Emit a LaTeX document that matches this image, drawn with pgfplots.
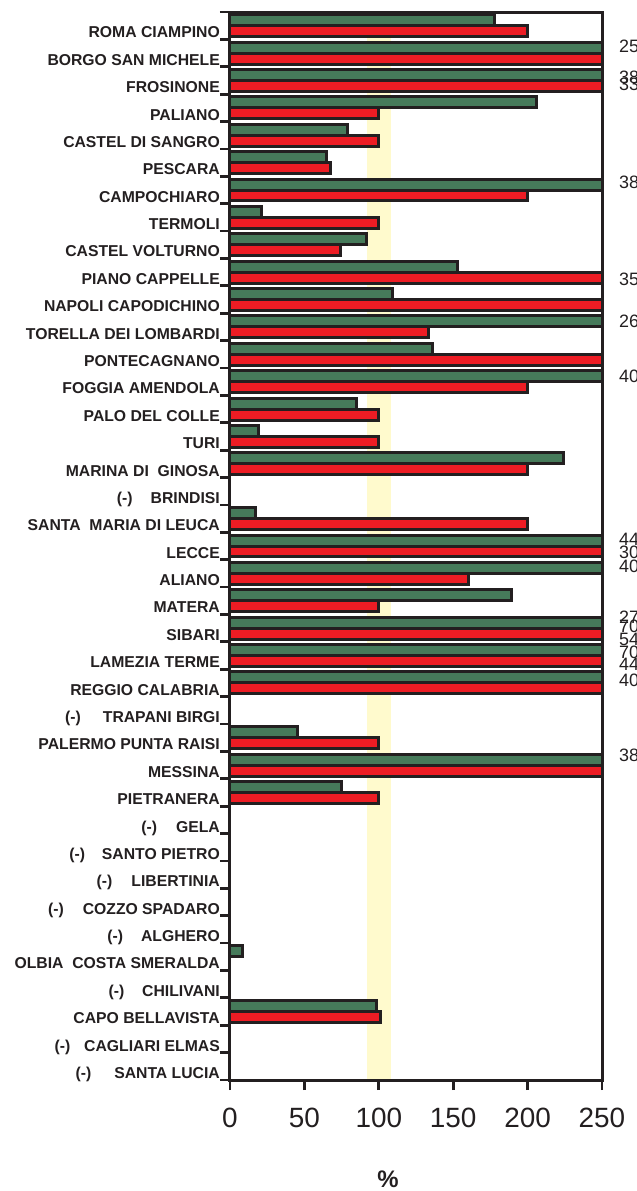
\documentclass[border=0pt]{standalone}
\usepackage{pgfplots}
\pgfplotsset{compat=1.18}
\usepackage{fontspec}
\setmainfont{Liberation Sans}
\usetikzlibrary{calc}
\definecolor{barg}{HTML}{467A5A}
\definecolor{barr}{HTML}{ED1C24}
\definecolor{edge}{HTML}{231F20}
\definecolor{band}{HTML}{FFFACD}
\newcommand{\na}[2][18bp]{(-)\hspace{#1}#2}
\begin{document}
\begin{tikzpicture}
\begin{axis}[name=ax, scale only axis, width=372bp, height=1068bp,
 xmin=0, xmax=250, ymin=0, ymax=39, y dir=reverse,
 axis line style={line width=3bp, draw=edge},
 xtick={0,50,...,250}, xtick pos=bottom, ytick pos=left,
 ytick={0,...,39}, tick align=outside, major tick length=10bp,
 every tick/.style={line width=2.8bp, draw=edge},
 minor tick num=0,
 yticklabels={{},
ROMA CIAMPINO,
BORGO SAN MICHELE,
FROSINONE,
PALIANO,
CASTEL DI SANGRO,
PESCARA,
CAMPOCHIARO,
TERMOLI,
CASTEL VOLTURNO,
PIANO CAPPELLE,
NAPOLI CAPODICHINO,
TORELLA DEI LOMBARDI,
PONTECAGNANO,
FOGGIA AMENDOLA,
PALO DEL COLLE,
TURI,
MARINA DI\ \ GINOSA,
\na{BRINDISI},
SANTA\ \ MARIA DI LEUCA,
LECCE,
ALIANO,
MATERA,
SIBARI,
LAMEZIA TERME,
REGGIO CALABRIA,
\na[22bp]{TRAPANI BIRGI},
PALERMO PUNTA RAISI,
MESSINA,
PIETRANERA,
\na[19bp]{GELA},
\na[17bp]{SANTO PIETRO},
\na[19bp]{LIBERTINIA},
\na[19bp]{COZZO SPADARO},
\na{ALGHERO},
OLBIA\ \ COSTA SMERALDA,
\na{CHILIVANI},
CAPO BELLAVISTA,
\na[14bp]{CAGLIARI ELMAS},
\na[23bp]{SANTA LUCIA}},
 yticklabel style={font=\fontsize{15.8}{18}\selectfont\bfseries, text=edge, anchor=base east, inner sep=0pt, yshift=1.5bp},
 xticklabel style={font=\fontsize{28}{32}\selectfont, text=edge, yshift=-14bp},
 /pgf/number format/assume math mode=true,
 clip mode=individual, axis on top,
]
\addplot[fill=band, draw=none] coordinates {(92,0) (108,0) (108,39) (92,39)} -- cycle;
\addplot[xbar, bar width=0.4, bar shift=0, fill=barg, draw=edge, line width=3bp] coordinates {
(178,0.3) (258,1.3) (385,2.3) (206,3.3) (79,4.3) (65,5.3) (385,6.3) (21.5,7.3) (92,8.3) (153,9.3)
(109,10.3) (265,11.3) (136,12.3) (405,13.3) (85,14.3) (19,15.3) (224,16.3) (17,18.3) (445,19.3)
(405,20.3) (189,21.3) (275,22.3) (545,23.3) (445,24.3) (45.5,26.3) (385,27.3) (75,28.3) (8.5,34.3) (98.5,36.3)};
\addplot[xbar, bar width=0.4, bar shift=0, fill=barr, draw=edge, line width=3bp] coordinates {
(200,0.7) (300,1.7) (335,2.7) (100,3.7) (100,4.7) (67.5,5.7) (200,6.7) (100,7.7) (74,8.7) (355,9.7)
(300,10.7) (133.5,11.7) (300,12.7) (200,13.7) (100,14.7) (100,15.7) (200,16.7) (200,18.7) (305,19.7)
(160,20.7) (100,21.7) (705,22.7) (705,23.7) (405,24.7) (100,26.7) (300,27.7) (100,28.7) (101,36.7)};
\tikzset{vl/.style={anchor=west, inner sep=0pt, font=\fontsize{18}{20}\selectfont, text=edge}}
\node[vl] at (axis cs:261.4,1.27) {25};
\node[vl] at (axis cs:261.4,2.37) {38};
\node[vl] at (axis cs:261.4,2.63) {33};
\node[vl] at (axis cs:261.4,6.23) {38};
\node[vl] at (axis cs:261.4,9.75) {35};
\node[vl] at (axis cs:261.4,11.31) {26};
\node[vl] at (axis cs:261.4,13.32) {40};
\node[vl] at (axis cs:261.4,19.24) {44};
\node[vl] at (axis cs:261.4,19.72) {30};
\node[vl] at (axis cs:261.4,20.26) {40};
\node[vl] at (axis cs:261.4,22.11) {27};
\node[vl] at (axis cs:261.4,22.45) {70};
\node[vl] at (axis cs:261.4,22.9) {54};
\node[vl] at (axis cs:261.4,23.37) {70};
\node[vl] at (axis cs:261.4,23.81) {44};
\node[vl] at (axis cs:261.4,24.39) {40};
\node[vl] at (axis cs:261.4,27.13) {38};
\end{axis}
\node[font=\fontsize{24}{28}\selectfont\bfseries, text=edge] at ($(ax.south west)+(158bp,-99bp)$) {\%};
\pgfresetboundingbox
\useasboundingbox ($(ax.south west)+(-230bp,-111bp)$) rectangle ($(ax.north east)+(35bp,12bp)$);
\end{tikzpicture}
\end{document}
